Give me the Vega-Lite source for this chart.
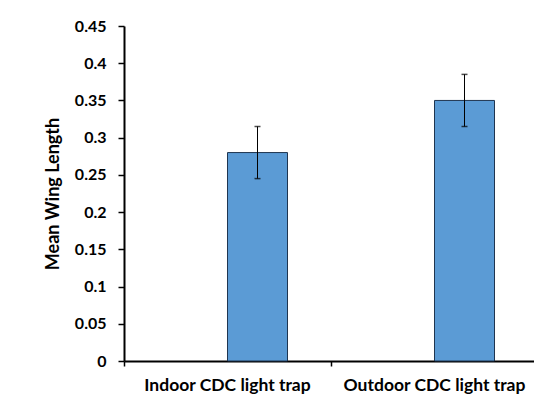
{
  "$schema": "https://vega.github.io/schema/vega-lite/v6.json",
  "autosize": {"type": "none"},
  "width": 414,
  "height": 335,
  "padding": {"left": 124, "top": 26, "right": 0, "bottom": 34},
  "background": "white",
  "config": {
    "view": {"stroke": null},
    "font": "Lato",
    "axis": {"labelFont": "Lato", "titleFont": "Lato", "labelColor": "black", "titleColor": "black", "grid": false},
    "axisY": {
      "titleFontSize": 18, "titleFontWeight": "bold", "titlePadding": 12,
      "labelOverlap": false, "labelFontSize": 16, "labelFontWeight": "bold",
      "domainColor": "black", "domainWidth": 2, "tickColor": "black", "tickSize": 6, "tickWidth": 1.5,
      "labelPadding": 12
    }
  },
  "data": {
    "values": [
      {"trap": "Indoor CDC light trap", "series": "B", "mean": 0.28, "lo": 0.245, "hi": 0.315},
      {"trap": "Outdoor CDC light trap", "series": "B", "mean": 0.35, "lo": 0.315, "hi": 0.385}
    ]
  },
  "encoding": {
    "x": {
      "field": "trap", "type": "nominal",
      "scale": {"domain": ["Indoor CDC light trap", "Outdoor CDC light trap"], "paddingInner": 0, "paddingOuter": 0},
      "axis": {
        "title": null, "labelAngle": 0, "labelFontSize": 17.5, "labelFontWeight": "bold", "labelLimit": 0,
        "domainColor": "black", "domainWidth": 2, "tickColor": "black", "tickSize": 5, "tickWidth": 1.5,
        "bandPosition": 0, "labelPadding": 10
      }
    },
    "xOffset": {
      "field": "series", "type": "nominal",
      "scale": {"domain": ["A", "B"], "paddingInner": 0, "paddingOuter": 0.725}
    }
  },
  "layer": [
    {
      "mark": {"type": "bar", "color": "#5B9BD5", "stroke": "#1F3550", "strokeWidth": 1},
      "encoding": {
        "y": {
          "field": "mean", "type": "quantitative",
          "scale": {"domain": [0, 0.45], "nice": false},
          "axis": {"title": "Mean Wing Length", "values": [0, 0.05, 0.1, 0.15, 0.2, 0.25, 0.3, 0.35, 0.4, 0.45], "labelExpr": "format(datum.value, '~g')"}
        }
      }
    },
    {
      "mark": {"type": "rule", "color": "black", "strokeWidth": 1},
      "encoding": {
        "y": {"field": "lo", "type": "quantitative", "axis": {"title": "Mean Wing Length", "values": [0, 0.05, 0.1, 0.15, 0.2, 0.25, 0.3, 0.35, 0.4, 0.45], "labelExpr": "format(datum.value, '~g')"}},
        "y2": {"field": "hi"}
      }
    },
    {
      "mark": {"type": "tick", "color": "black", "size": 6, "thickness": 1.5},
      "encoding": {"y": {"field": "lo", "type": "quantitative", "axis": {"title": "Mean Wing Length", "values": [0, 0.05, 0.1, 0.15, 0.2, 0.25, 0.3, 0.35, 0.4, 0.45], "labelExpr": "format(datum.value, '~g')"}}}
    },
    {
      "mark": {"type": "tick", "color": "black", "size": 6, "thickness": 1.5},
      "encoding": {"y": {"field": "hi", "type": "quantitative", "axis": {"title": "Mean Wing Length", "values": [0, 0.05, 0.1, 0.15, 0.2, 0.25, 0.3, 0.35, 0.4, 0.45], "labelExpr": "format(datum.value, '~g')"}}}
    }
  ]
}
